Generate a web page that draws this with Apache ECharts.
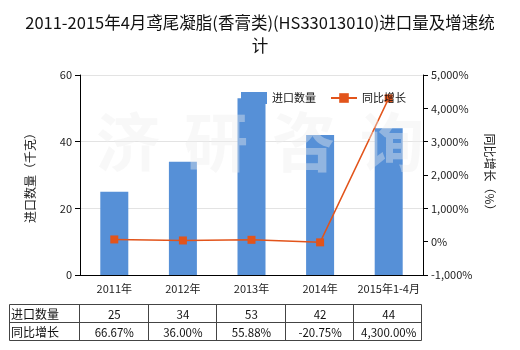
<!DOCTYPE html>
<html><head><meta charset="utf-8">
<script src="https://cdn.jsdelivr.net/npm/echarts@6/dist/echarts.min.js"></script>
<style>html,body{margin:0;padding:0;background:#fff}#c{width:520px;height:350px}</style>
</head><body><div id="c"></div>
<script>
const categories = ['2011年','2012年','2013年','2014年','2015年1-4月'];
const importQty = [25, 34, 53, 42, 44];
const growth = [66.67, 36.00, 55.88, -20.75, 4300.00];
const leftTicks = {min: 0, max: 60, interval: 20};
const rightTicks = {min: -1000, max: 5000, interval: 1000};
const rowNames = ['进口数量', '同比增长'];

const FONT = '"Noto Sans CJK SC", "Microsoft YaHei", sans-serif';
const gridL = 80, gridR = 423, gridT = 75, gridB = 275;
const fmtNum = v => v.toLocaleString('en-US');
const fmtPct = v => v.toLocaleString('en-US', {minimumFractionDigits: 2, maximumFractionDigits: 2}) + '%';

const chart = echarts.init(document.getElementById('c'));

// table graphics
const g = [];
const tTop = 304, tMid = 322, tBot = 340, tLeft = 9;
const colW = (gridR - gridL) / categories.length;
const lineStyle = {stroke: '#444', lineWidth: 1};
g.push({type: 'rect', shape: {x: tLeft + 0.5, y: tTop + 0.5, width: gridR - tLeft - 2, height: tBot - tTop}, style: {fill: 'none', stroke: '#444', lineWidth: 1}});
g.push({type: 'line', shape: {x1: tLeft, y1: tMid + 0.5, x2: gridR - 1, y2: tMid + 0.5}, style: lineStyle});
for (let i = 0; i < categories.length; i++) {
  const x = Math.round(gridL + colW * i) - 0.5;
  g.push({type: 'line', shape: {x1: x, y1: tTop, x2: x, y2: tBot}, style: lineStyle});
}
rowNames.forEach((n, r) => {
  g.push({type: 'text', x: tLeft + 2, y: (r === 0 ? (tTop + tMid) / 2 : (tMid + tBot) / 2) + 1,
    style: {text: n, font: '12px ' + FONT, fill: '#111', textVerticalAlign: 'middle', textAlign: 'left'}});
});
categories.forEach((c, i) => {
  const cx = gridL + colW * (i + 0.5);
  g.push({type: 'text', x: cx, y: (tTop + tMid) / 2 + 2,
    style: {text: fmtNum(importQty[i]), font: '11.5px ' + FONT, fill: '#111', textAlign: 'center', textVerticalAlign: 'middle'}});
  g.push({type: 'text', x: cx, y: (tMid + tBot) / 2 + 2,
    style: {text: fmtPct(growth[i]), font: '11.5px ' + FONT, fill: '#111', textAlign: 'center', textVerticalAlign: 'middle'}});
});
// watermark
const wm = ['济','研','咨','询'];
wm.forEach((ch, i) => {
  g.push({type: 'text', x: 128 + i * 88, y: 142, z: 100,
    style: {text: ch, font: 'bold 64px ' + FONT, fill: 'rgba(238,238,238,0.4)', textAlign: 'center', textVerticalAlign: 'middle'}});
});

chart.setOption({
  animation: false,
  title: {
    text: '2011-2015年4月鸢尾凝脂(香膏类)(HS33013010)进口量及增速统\n计',
    left: 'center', top: 6,
    textStyle: {fontFamily: FONT, fontSize: 16.5, fontWeight: 'normal', color: '#111', lineHeight: 23}
  },
  legend: {
    left: 236, top: 87, itemWidth: 26, itemHeight: 12, itemGap: 14,
    textStyle: {fontFamily: FONT, fontSize: 11, color: '#111'},
    data: [{name: '进口数量', icon: 'rect'}, {name: '同比增长'}]
  },
  grid: {left: gridL, right: 520 - gridR, top: gridT, bottom: 350 - gridB},
  xAxis: {
    type: 'category', data: categories,
    axisLine: {lineStyle: {color: '#000'}},
    axisTick: {alignWithLabel: true, lineStyle: {color: '#000'}},
    axisLabel: {interval: 0, fontFamily: FONT, fontSize: 11, color: '#222', margin: 8}
  },
  yAxis: [{
    type: 'value', min: leftTicks.min, max: leftTicks.max, interval: leftTicks.interval,
    name: '进口数量（千克）', nameLocation: 'middle', nameGap: 44,
    nameTextStyle: {fontFamily: FONT, fontSize: 12, color: '#222'},
    axisLine: {show: true, lineStyle: {color: '#000'}},
    axisTick: {show: true, lineStyle: {color: '#000'}},
    axisLabel: {fontFamily: FONT, fontSize: 11, color: '#222'},
    splitLine: {lineStyle: {color: '#e3e3e3'}}
  }, {
    type: 'value', min: rightTicks.min, max: rightTicks.max, interval: rightTicks.interval,
    name: '同比增长（%）', nameLocation: 'middle', nameGap: 58, nameRotate: -90,
    nameTextStyle: {fontFamily: FONT, fontSize: 12, color: '#222'},
    axisLine: {show: true, lineStyle: {color: '#000'}},
    axisTick: {show: true, lineStyle: {color: '#000'}},
    axisLabel: {fontFamily: FONT, fontSize: 11, color: '#222', formatter: v => fmtNum(v) + '%'},
    splitLine: {show: false}
  }],
  series: [{
    name: '进口数量', type: 'bar', data: importQty, barWidth: 28,
    itemStyle: {color: '#5690D7'}
  }, {
    name: '同比增长', type: 'line', yAxisIndex: 1, data: growth,
    symbol: 'rect', symbolSize: 8,
    itemStyle: {color: '#E2541B'}, lineStyle: {color: '#E2541B', width: 1.5}
  }],
  graphic: g
});
</script></body></html>
